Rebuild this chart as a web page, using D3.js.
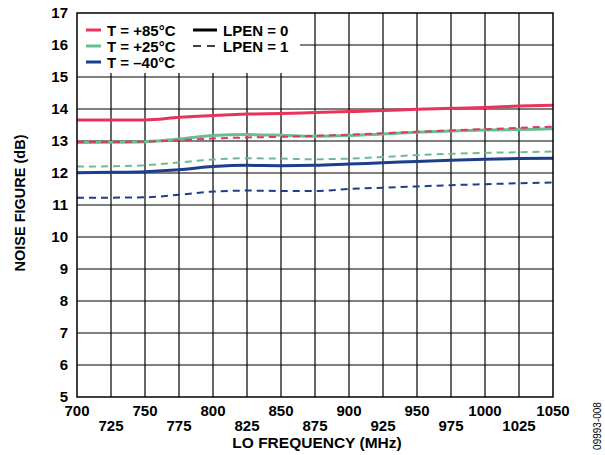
<!DOCTYPE html>
<html>
<head>
<meta charset="utf-8">
<script src="https://cdn.jsdelivr.net/npm/d3@7"></script>
<style>
  body { margin: 0; background: #fff; }
  svg text { font-family: "Liberation Sans", Arial, sans-serif; font-weight: bold; fill: #000; }
</style>
</head>
<body>
<div id="chart"></div>
<script>
// LO frequency points (MHz)
const freqs = [700, 725, 750, 775, 800, 825, 850, 875, 900, 925, 950, 975, 1000, 1025, 1050];

// noise figure (dB)
const nf85_lp0 = [13.66, 13.66, 13.66, 13.74, 13.8, 13.84, 13.86, 13.89, 13.92, 13.95, 13.99, 14.02, 14.05, 14.09, 14.12];
const nf85_lp1 = [12.97, 12.97, 12.98, 13.02, 13.08, 13.11, 13.13, 13.16, 13.2, 13.24, 13.29, 13.33, 13.37, 13.41, 13.45];
const nf25_lp0 = [12.95, 12.96, 12.98, 13.06, 13.17, 13.2, 13.18, 13.15, 13.17, 13.22, 13.27, 13.31, 13.34, 13.36, 13.38];
const nf25_lp1 = [12.2, 12.21, 12.24, 12.33, 12.42, 12.46, 12.45, 12.43, 12.45, 12.5, 12.56, 12.6, 12.63, 12.65, 12.67];
const nfm40_lp0 = [12.01, 12.02, 12.04, 12.1, 12.2, 12.24, 12.23, 12.24, 12.28, 12.32, 12.36, 12.4, 12.43, 12.45, 12.46];
const nfm40_lp1 = [11.23, 11.23, 11.24, 11.32, 11.42, 11.45, 11.44, 11.44, 11.5, 11.54, 11.58, 11.62, 11.65, 11.68, 11.7];

const xTicks = d3.range(700, 1051, 25);
const yTicks = d3.range(5, 18, 1);

const temps = ['T = +85°C', 'T = +25°C', 'T = –40°C'];
const tempColors = ['#e8345c', '#6bbd91', '#1b3f8b'];
const lpenLabels = ['LPEN = 0', 'LPEN = 1'];

const series = [
    { vals: nf85_lp0, color: 0, dashed: false },
    { vals: nf25_lp0, color: 1, dashed: false },
    { vals: nfm40_lp0, color: 2, dashed: false },
    { vals: nf85_lp1, color: 0, dashed: true },
    { vals: nf25_lp1, color: 1, dashed: true },
    { vals: nfm40_lp1, color: 2, dashed: true },
];

const width = 605, height = 455;
const margin = { top: 13, right: 52, bottom: 58, left: 77 };
const innerW = width - margin.left - margin.right;
const innerH = height - margin.top - margin.bottom;

const svg = d3.select('#chart').append('svg')
    .attr('width', width)
    .attr('height', height);

const g = svg.append('g').attr('transform', `translate(${margin.left}, ${margin.top})`);

const x = d3.scaleLinear().domain([700, 1050]).range([0, innerW]);
const y = d3.scaleLinear().domain([5, 17]).range([innerH, 0]);

// grid
g.append('g').selectAll('line').data(xTicks.slice(1, -1)).join('line')
    .attr('x1', d => x(d)).attr('x2', d => x(d))
    .attr('y1', 0).attr('y2', innerH)
    .attr('stroke', '#000').attr('stroke-width', 1.2);
g.append('g').selectAll('line').data(yTicks.slice(1, -1)).join('line')
    .attr('x1', 0).attr('x2', innerW)
    .attr('y1', d => y(d)).attr('y2', d => y(d))
    .attr('stroke', '#000').attr('stroke-width', 1.2);

// legend background hides the grid behind it
g.append('rect')
    .attr('x', 0).attr('y', 0)
    .attr('width', 223).attr('height', y(15) - 4)
    .attr('fill', '#fff');

// curves
const line = d3.line()
    .x((d, i) => x(freqs[i]))
    .y(d => y(d))
    .curve(d3.curveMonotoneX);

g.append('g').selectAll('path').data(series).join('path')
    .attr('d', d => line(d.vals))
    .attr('fill', 'none')
    .attr('stroke', d => tempColors[d.color])
    .attr('stroke-width', d => d.dashed ? 2 : 3)
    .attr('stroke-dasharray', d => d.dashed ? '7,5' : null);

// frame
g.append('rect')
    .attr('x', 0).attr('y', 0)
    .attr('width', innerW).attr('height', innerH)
    .attr('fill', 'none').attr('stroke', '#000').attr('stroke-width', 1.5);

// y axis
const yAxis = g.append('g').call(d3.axisLeft(y).tickValues(yTicks).tickSize(0).tickPadding(9));
yAxis.select('.domain').remove();
yAxis.selectAll('text')
    .style('font-family', '"Liberation Sans", Arial, sans-serif')
    .style('font-weight', 'bold')
    .style('font-size', '15px')
    .attr('fill', '#000');

// x axis, alternating rows
const xLab = g.append('g');
xLab.selectAll('text').data(xTicks).join('text')
    .attr('x', d => x(d))
    .attr('y', (d, i) => innerH + (i % 2 === 0 ? 19 : 34))
    .attr('text-anchor', 'middle')
    .style('font-size', '15px')
    .text(d => d);

svg.append('text')
    .attr('x', margin.left + innerW / 2 + 2)
    .attr('y', 448)
    .attr('text-anchor', 'middle')
    .style('font-size', '15.5px')
    .text('LO FREQUENCY (MHz)');

svg.append('text')
    .attr('transform', `translate(25, ${margin.top + y(11) - 2}) rotate(-90)`)
    .attr('text-anchor', 'middle')
    .style('font-size', '14.5px')
    .text('NOISE FIGURE (dB)');

svg.append('text')
    .attr('transform', 'translate(601, 426) rotate(-90)')
    .attr('text-anchor', 'middle')
    .style('font-size', '10px')
    .style('font-weight', 'normal')
    .text('09993-008');

// legend
const leg = g.append('g');
temps.forEach((t, i) => {
    const ly = 17 + i * 16;
    leg.append('line')
        .attr('x1', 9).attr('x2', 24).attr('y1', ly).attr('y2', ly)
        .attr('stroke', tempColors[i]).attr('stroke-width', 3);
    leg.append('text')
        .attr('x', 30).attr('y', ly + 5.5)
        .style('font-size', '15px')
        .text(t);
});
lpenLabels.forEach((t, i) => {
    const ly = 17 + i * 16;
    leg.append('line')
        .attr('x1', 116).attr('x2', 140).attr('y1', ly).attr('y2', ly)
        .attr('stroke', '#000').attr('stroke-width', i === 0 ? 3 : 1.5)
        .attr('stroke-dasharray', i === 0 ? null : '8,6');
    leg.append('text')
        .attr('x', 146).attr('y', ly + 5.5)
        .style('font-size', '15px')
        .text(t);
});
</script>
</body>
</html>
